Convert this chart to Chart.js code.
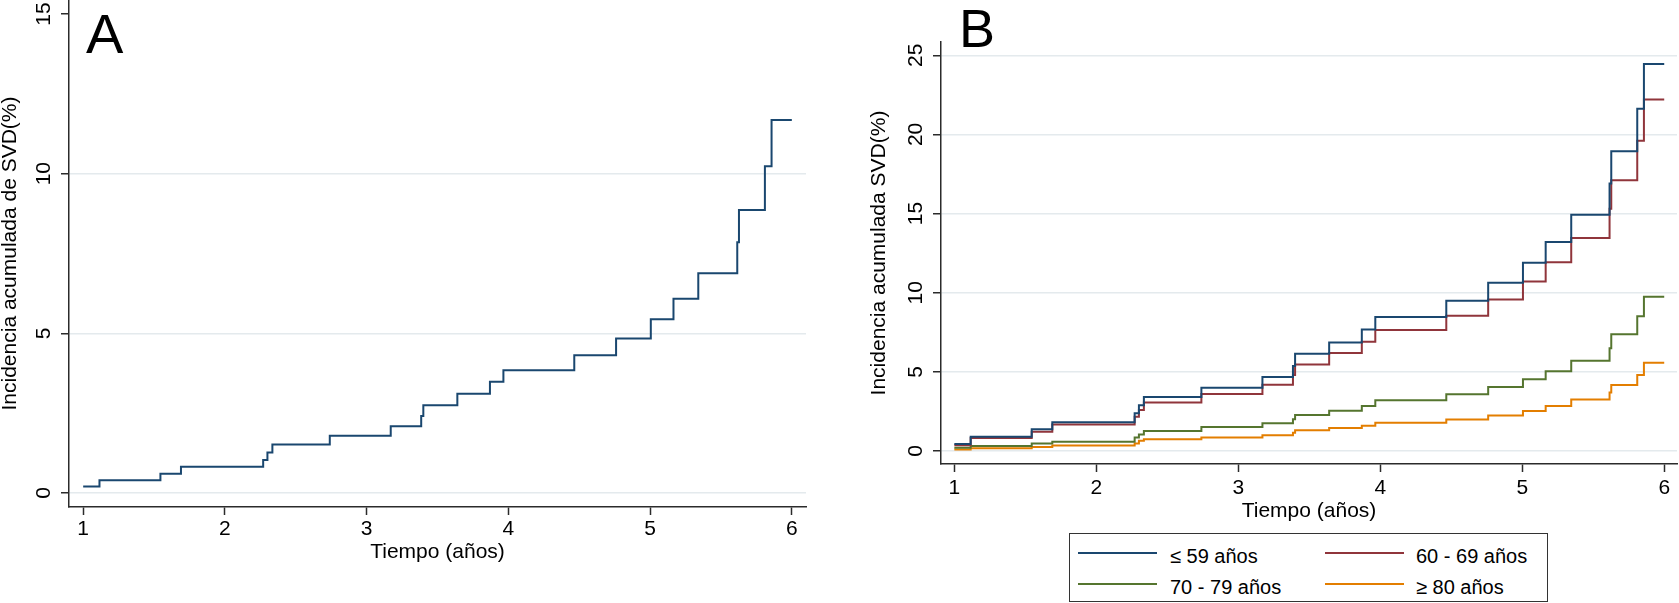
<!DOCTYPE html>
<html>
<head>
<meta charset="utf-8">
<script src="https://cdn.jsdelivr.net/npm/chart.js@4.4.1/dist/chart.umd.min.js"></script>
<style>
html,body{margin:0;padding:0;background:#fff;width:1679px;height:603px;overflow:hidden;font-family:"Liberation Sans",Arial,sans-serif;}
#wrap{position:relative;width:1679px;height:603px;}
canvas{position:absolute;top:0;}
#cA{left:0;}
#cB{left:830px;}
.panel{position:absolute;line-height:1;color:#000;}
#legend{position:absolute;left:1069px;top:533px;width:479px;height:69px;box-sizing:border-box;border:1.5px solid #333;background:#fff;}
.lg-line{position:absolute;height:2px;width:79px;}
.lg-text{position:absolute;font-size:20px;line-height:20px;color:#000;white-space:nowrap;}
</style>
</head>
<body>
<div id="wrap">
  <canvas id="cA" width="830" height="603"></canvas>
  <canvas id="cB" width="849" height="603"></canvas>
  <div class="panel" id="lblA" style="left:86px;top:6px;font-size:56px;">A</div>
  <div class="panel" id="lblB" style="left:959px;top:1px;font-size:54px;">B</div>
  <div id="legend"></div>
</div>
<script>
// ---------- data ----------
const xTicks = [1, 2, 3, 4, 5, 6];
const yTicksA = [0, 5, 10, 15];
const yTicksB = [0, 5, 10, 15, 20, 25];

const xTitle = 'Tiempo (años)';
const yTitleA = 'Incidencia acumulada de SVD(%)';
const yTitleB = 'Incidencia acumulada SVD(%)';

// Panel A: overall cumulative incidence (step times in years, % values)
const timeA = [1.0, 1.115, 1.545, 1.69, 2.27, 2.30, 2.335, 2.74, 3.17, 3.385, 3.40, 3.64, 3.87, 3.965, 4.465, 4.76, 5.005, 5.165, 5.34, 5.615, 5.627, 5.81, 5.857, 6.0];
const incA  = [0.2, 0.4, 0.6, 0.82, 1.03, 1.27, 1.52, 1.79, 2.09, 2.41, 2.75, 3.11, 3.48, 3.84, 4.31, 4.84, 5.44, 6.08, 6.88, 7.85, 8.86, 10.23, 11.68, 11.68];

// Panel B: by age group
const timeB = [1.0, 1.115, 1.545, 1.69, 2.27, 2.30, 2.335, 2.74, 3.17, 3.385, 3.40, 3.64, 3.87, 3.965, 4.465, 4.76, 5.005, 5.165, 5.345, 5.615, 5.627, 5.81, 5.857, 6.0];
const incB59   = [0.45, 0.9, 1.38, 1.82, 2.38, 2.89, 3.42, 4.0, 4.67, 5.37, 6.14, 6.86, 7.68, 8.47, 9.49, 10.63, 11.89, 13.21, 14.92, 16.9, 18.94, 21.63, 24.45, 24.45];
const incB6069 = [0.36, 0.82, 1.22, 1.67, 2.17, 2.59, 3.07, 3.6, 4.18, 4.8, 5.46, 6.2, 6.9, 7.64, 8.54, 9.58, 10.71, 11.92, 13.45, 15.3, 17.1, 19.6, 22.2, 22.2];
const incB7079 = [0.21, 0.31, 0.48, 0.59, 0.86, 1.05, 1.26, 1.52, 1.75, 2.0, 2.27, 2.54, 2.85, 3.2, 3.58, 4.04, 4.53, 5.04, 5.7, 6.5, 7.37, 8.52, 9.74, 9.74];
const incB80   = [0.1, 0.17, 0.25, 0.35, 0.48, 0.65, 0.74, 0.85, 0.99, 1.16, 1.32, 1.46, 1.6, 1.79, 1.99, 2.25, 2.53, 2.85, 3.26, 3.7, 4.17, 4.8, 5.57, 5.57];
const groupLabels = ['≤ 59 años', '60 - 69 años', '70 - 79 años', '≥ 80 años'];

// ---------- styles ----------
const FONT = '"Liberation Sans", Arial, Helvetica, sans-serif';
const colors = ['#1a476f', '#90353b', '#55752f', '#e37e00'];
const gridColor = '#e4eaed';
const axisColor = '#2b2b2b';
Chart.defaults.font.family = FONT;
Chart.defaults.color = '#000';

const pts = (t, v) => t.map((x, i) => ({x: x, y: v[i]}));

function xScale(min, max, tickPad, titlePadBottom) {
  return {
    type: 'linear', min: min, max: max,
    afterBuildTicks: s => { s.ticks = xTicks.map(v => ({value: v})); },
    afterFit: s => { s.height = 60; s.paddingLeft = 0; s.paddingRight = 0; },
    grid: {display: true, drawOnChartArea: false, drawTicks: true, tickLength: 8, tickColor: axisColor, tickWidth: 1.5},
    border: {display: true, color: axisColor, width: 1.5},
    ticks: {font: {size: 21}, color: '#000', padding: tickPad, maxRotation: 0, minRotation: 0},
    title: {display: true, text: xTitle, font: {size: 21}, color: '#000', padding: {top: 0, bottom: titlePadBottom}}
  };
}
function yScale(min, max, ticks, width, titlePadTop, hideTop) {
  return {
    type: 'linear', min: min, max: max,
    afterBuildTicks: s => { s.ticks = ticks.map(v => ({value: v})); },
    afterFit: s => { s.width = width; s.paddingTop = 0; s.paddingBottom = 0; },
    grid: {
      display: true, drawOnChartArea: true, drawTicks: true, tickLength: 8,
      color: ctx => (hideTop && ctx.tick && ctx.tick.value === hideTop) ? 'rgba(0,0,0,0)' : gridColor,
      lineWidth: 1.5, tickColor: axisColor, tickWidth: 1.5
    },
    border: {display: true, color: axisColor, width: 1.5},
    ticks: {font: {size: 21}, color: '#000', padding: 5, minRotation: 90, maxRotation: 90, crossAlign: 'center'},
    title: {display: true, text: null, font: {size: 21, lineHeight: 1}, color: '#000', padding: {top: titlePadTop, bottom: 0}}
  };
}
function ds(label, t, v, color) {
  return {label: label, data: pts(t, v), borderColor: color, backgroundColor: color, borderWidth: 2,
          pointRadius: 0, pointHoverRadius: 0, stepped: 'before', tension: 0, fill: false};
}

// ---------- Panel A ----------
const yA = yScale(-0.44, 15.44, yTicksA, 69, 0, 15);
yA.title.text = yTitleA;
new Chart(document.getElementById('cA'), {
  type: 'line',
  data: {datasets: [ds('SVD', timeA, incA, colors[0])]},
  options: {
    responsive: false, animation: false, devicePixelRatio: 1,
    layout: {padding: {left: 0, top: 0, right: 24, bottom: 36}},
    plugins: {legend: {display: false}, tooltip: {enabled: false}},
    scales: {x: xScale(0.90, 6.10, 1.9, 2), y: yA}
  }
});

// ---------- Panel B ----------
const yB = yScale(-0.82, 25.84, yTicksB, 111, 38.5, null);
yB.title.text = yTitleB;
const chartB = new Chart(document.getElementById('cB'), {
  type: 'line',
  data: {datasets: [
    ds(groupLabels[0], timeB, incB59, colors[0]),
    ds(groupLabels[1], timeB, incB6069, colors[1]),
    ds(groupLabels[2], timeB, incB7079, colors[2]),
    ds(groupLabels[3], timeB, incB80, colors[3])
  ]},
  options: {
    responsive: false, animation: false, devicePixelRatio: 1,
    layout: {padding: {left: 0, top: 42, right: 2, bottom: 79}},
    plugins: {legend: {display: false}, tooltip: {enabled: false}},
    scales: {x: xScale(0.906, 6.09, 3.7, 0.6), y: yB}
  }
});

// ---------- HTML legend built from chart B datasets (2 x 2) ----------
const legend = document.getElementById('legend');
const colLine = [8, 255];
const colText = [100, 346];
const rowLine = [19, 50];
chartB.data.datasets.forEach((d, i) => {
  const c = i % 2, r = Math.floor(i / 2);
  const ln = document.createElement('div');
  ln.className = 'lg-line';
  ln.style.left = colLine[c] + 'px';
  ln.style.top = (rowLine[r] - 1) + 'px';
  ln.style.background = d.borderColor;
  legend.appendChild(ln);
  const tx = document.createElement('div');
  tx.className = 'lg-text';
  tx.style.left = colText[c] + 'px';
  tx.style.top = (rowLine[r] - 7.5) + 'px';
  tx.textContent = d.label;
  legend.appendChild(tx);
});
</script>
</body>
</html>
